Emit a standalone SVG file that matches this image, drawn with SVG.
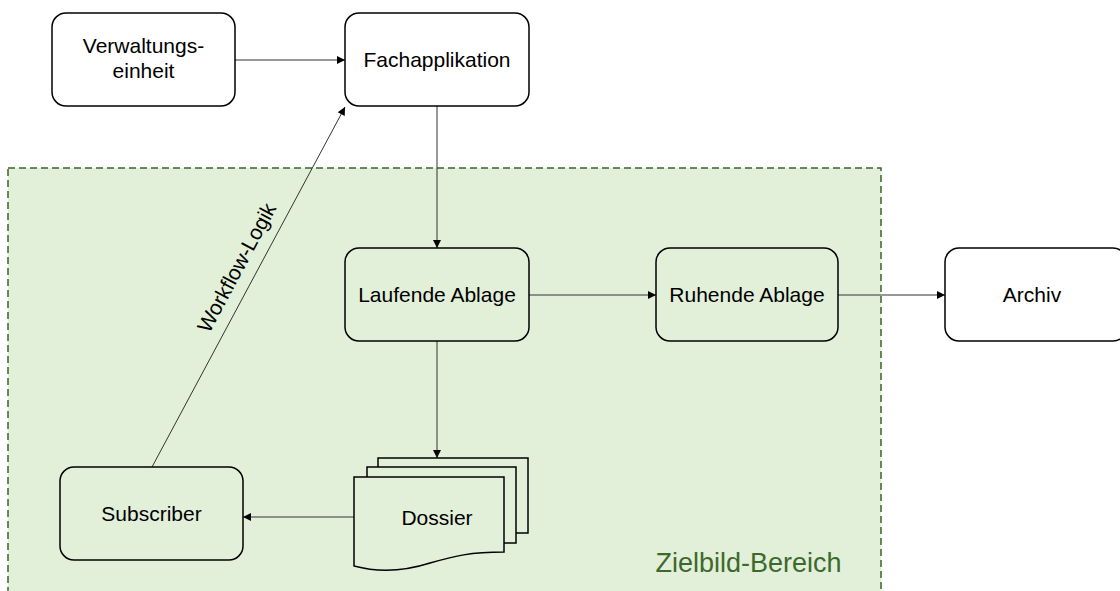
<svg xmlns="http://www.w3.org/2000/svg" width="1120" height="591" viewBox="0 0 1120 591">
<defs>
<style>
.node{stroke:#000;stroke-width:1.5;}
.white{fill:#fff;}
.green{fill:#e2efd9;}
.lbl{font-family:"Liberation Sans",Arial,sans-serif;font-size:21px;fill:#000;text-anchor:middle;}
.edge{stroke:#333;stroke-width:1;fill:none;marker-end:url(#arr);}
</style>
<marker id="arr" viewBox="0 0 10 10" refX="10" refY="5" markerWidth="10" markerHeight="8" markerUnits="userSpaceOnUse" orient="auto">
<path d="M0,0 L10,5 L0,10 Z" fill="#000"/>
</marker>
</defs>
<rect width="1120" height="591" fill="#fff"/>
<g id="zielbild-bereich">
<rect x="8" y="168" width="873" height="440" fill="#e2efd9" stroke="#3b6328" stroke-width="1.5" stroke-dasharray="7 4"/>
<text x="748.5" y="572" font-family="'Liberation Sans',Arial,sans-serif" font-size="27" fill="#3d6a2c" text-anchor="middle">Zielbild-Bereich</text>
</g>
<g id="connectors">
<path class="edge" d="M235,60 H345"/>
<path class="edge" d="M437,106 V248"/>
<path class="edge" d="M529,295 H656"/>
<path class="edge" d="M838,295 H945"/>
<path class="edge" d="M437,341 V458"/>
<path class="edge" d="M354,517 H243"/>
<path class="edge" d="M152,467 L345,107"/>
<text class="lbl" transform="translate(243,271) rotate(-61.8)">Workflow-Logik</text>
</g>
<g id="verwaltungseinheit">
<rect class="node white" x="52" y="13" width="183" height="93" rx="14"/>
<text class="lbl" x="143.5" y="53">Verwaltungs-</text>
<text class="lbl" x="143.5" y="78">einheit</text>
</g>
<g id="fachapplikation">
<rect class="node white" x="345" y="13" width="184" height="93" rx="14"/>
<text class="lbl" x="437" y="67">Fachapplikation</text>
</g>
<g id="laufende-ablage">
<rect class="node green" x="345" y="248" width="184" height="93" rx="14"/>
<text class="lbl" x="437" y="302">Laufende Ablage</text>
</g>
<g id="ruhende-ablage">
<rect class="node green" x="656" y="248" width="182" height="93" rx="14"/>
<text class="lbl" x="747" y="302">Ruhende Ablage</text>
</g>
<g id="archiv">
<rect class="node white" x="945" y="248" width="182" height="93" rx="14"/>
<text class="lbl" x="1032" y="302">Archiv</text>
</g>
<g id="subscriber">
<rect class="node green" x="60" y="467" width="183" height="93" rx="14"/>
<text class="lbl" x="151.5" y="521">Subscriber</text>
</g>
<g id="dossier">
<rect class="node green" x="378" y="458" width="150" height="75"/>
<rect class="node green" x="367" y="467" width="149" height="76"/>
<path class="node green" d="M354,477 H504 V552 C470,552 455,556 430,563 C405,571 380,573 354,566 Z"/>
<text class="lbl" x="437" y="525">Dossier</text>
</g>
</svg>
